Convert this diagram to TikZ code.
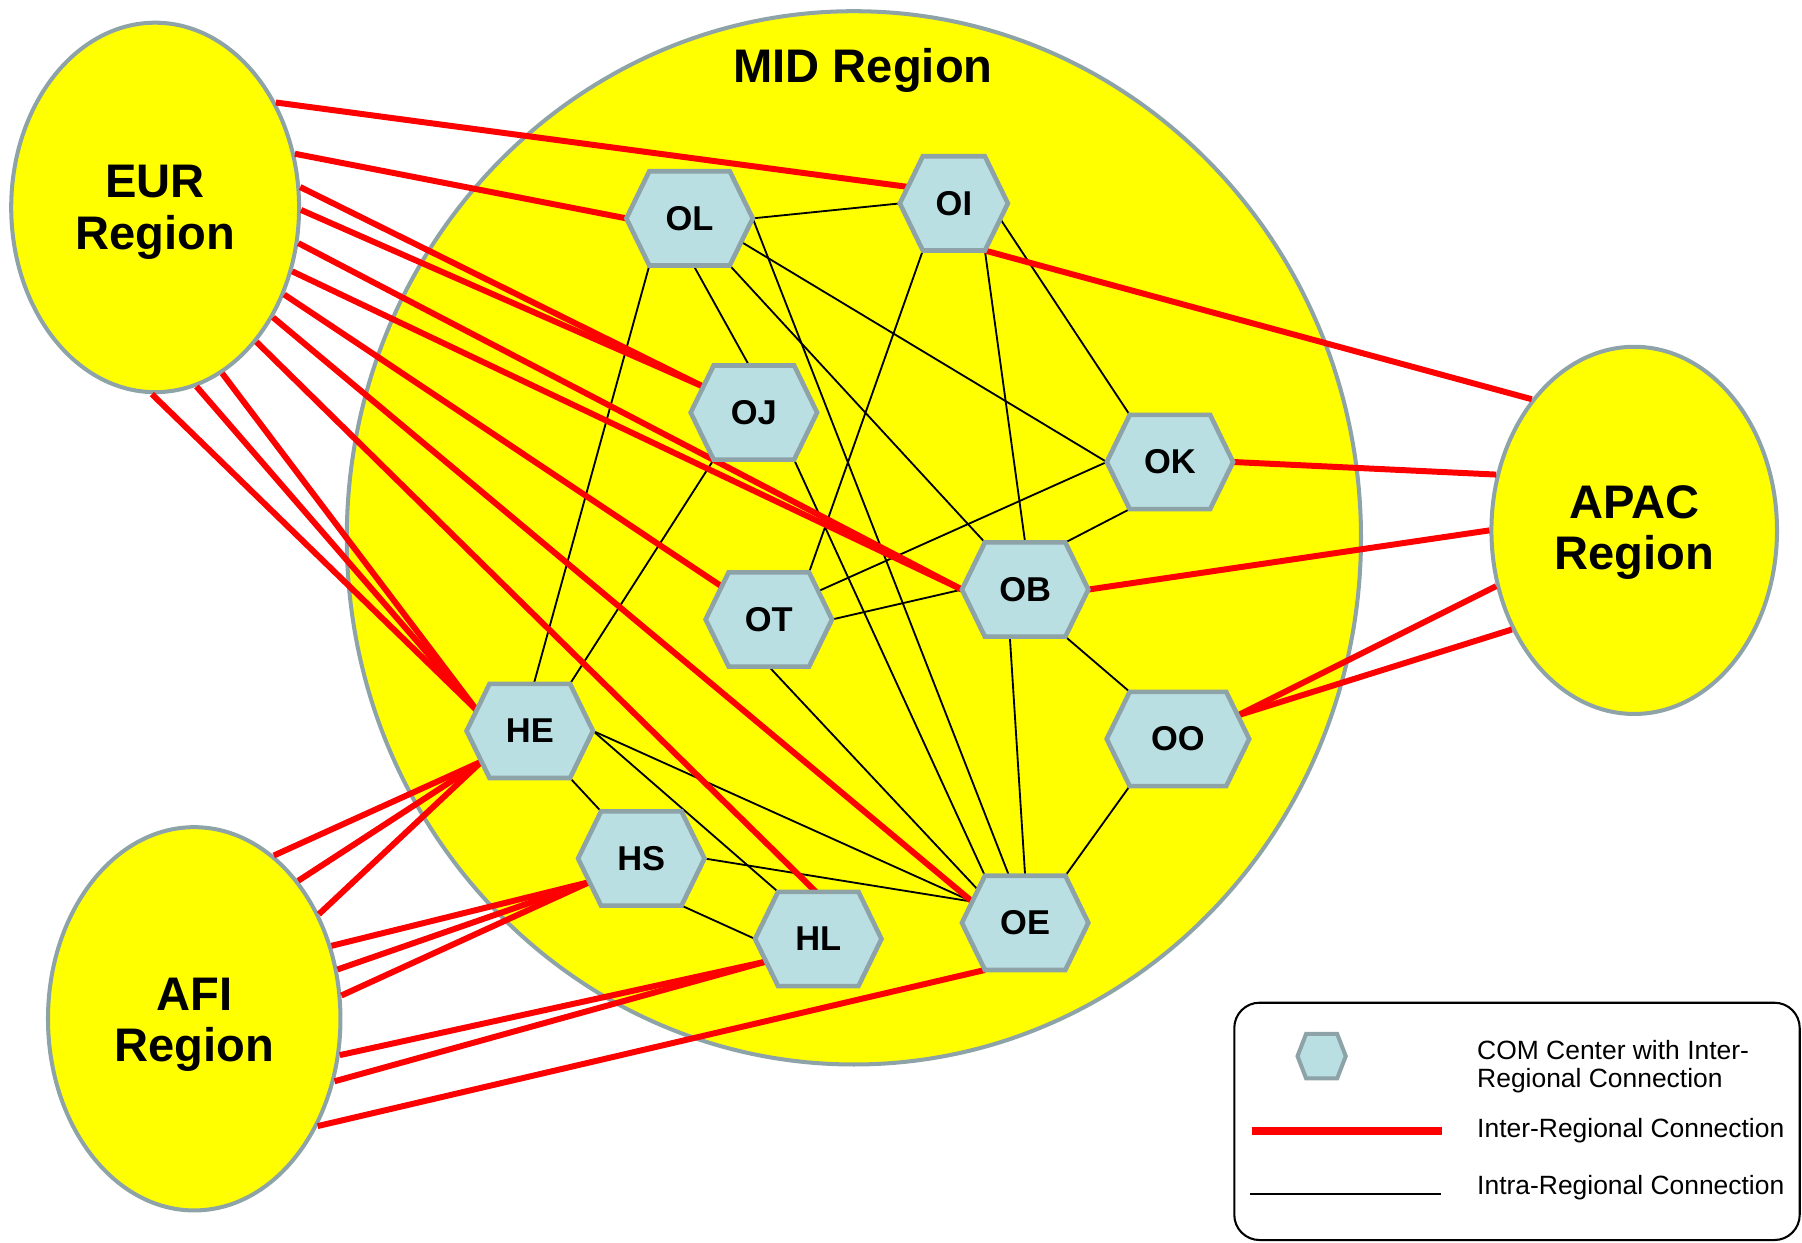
\documentclass[tikz,border=0pt]{standalone}
\usepackage{fontspec}
\setmainfont{Liberation Sans}
\usetikzlibrary{shapes.geometric,calc}
\definecolor{regyellow}{RGB}{255,255,0}
\definecolor{rimgray}{RGB}{141,163,167}
\definecolor{hexfill}{RGB}{185,223,227}
\definecolor{linkred}{RGB}{255,0,0}
\pgfdeclarelayer{regions}
\pgfdeclarelayer{links}
\pgfsetlayers{regions,links,main}
% #1 name, #2 x, #3 y, #4 half top edge, #5 label
\newcommand\mkhex[5]{%
  \coordinate (#1-c) at (#2,#3);
  \coordinate (#1-W) at (#2-#4-20,#3);
  \coordinate (#1-NW) at (#2-#4,#3-41);
  \coordinate (#1-NE) at (#2+#4,#3-41);
  \coordinate (#1-E) at (#2+#4+20,#3);
  \coordinate (#1-SE) at (#2+#4,#3+41);
  \coordinate (#1-SW) at (#2-#4,#3+41);
  \draw[hexshape] (#1-W) -- (#1-NW) -- (#1-NE) -- (#1-E) -- (#1-SE) -- (#1-SW) -- cycle;
  \node[hexlabel] (#1) at (#1-c) {#5};
}
\begin{document}
\begin{tikzpicture}[x=0.5pt,y=-0.5pt,
  regionshape/.style={draw=rimgray, fill=regyellow, line width=1.75pt, inner sep=0pt},
  regionlabel/.style={font=\fontsize{20.5}{22.5}\selectfont\bfseries, align=center, inner sep=0pt},
  hexshape/.style={draw=rimgray, fill=hexfill, line width=2pt},
  hexlabel/.style={font=\fontsize{15}{16}\selectfont\bfseries, inner sep=0pt},
  interlink/.style={draw=linkred, line width=2.6pt},
  intralink/.style={draw=black, line width=0.8pt},
  legendtext/.style={font=\fontsize{11.5}{13}\selectfont, anchor=base west, inner sep=0pt}]
\useasboundingbox (0,0) rectangle (1568,1081);

\begin{pgfonlayer}{regions}
  \node[regionshape, ellipse, minimum width=441.25pt, minimum height=458.25pt] (MID) at (743,468) {};
  \node[regionshape, ellipse, minimum width=125.25pt, minimum height=160.75pt] (EUR) at (135,180.5) {};
  \node[regionshape, ellipse, minimum width=124.25pt, minimum height=159.75pt] (APAC) at (1422,461.5) {};
  \node[regionshape, ellipse, minimum width=127.25pt, minimum height=166.75pt] (AFI) at (169,886.5) {};
  \node[regionlabel, font=\fontsize{20.5}{23}\selectfont\bfseries] (MIDlabel) at (751,61.6) {MID Region};
  \node[regionlabel] (EURlabel) at (135,184.9) {EUR\\Region};
  \node[regionlabel] (APAClabel) at (1422,463.4) {APAC\\Region};
  \node[regionlabel] (AFIlabel) at (169,891.7) {AFI\\Region};
\end{pgfonlayer}

\mkhex{OL}{600}{190}{35}{OL}
\mkhex{OI}{830}{177}{27}{OI}
\mkhex{OJ}{656}{359}{35}{OJ}
\mkhex{OK}{1018}{402}{35}{OK}
\mkhex{OB}{892}{513}{35}{OB}
\mkhex{OT}{669}{539}{35}{OT}
\mkhex{OO}{1025}{643}{42}{OO}
\mkhex{HE}{461}{636}{35}{HE}
\mkhex{HS}{558}{747}{35}{HS}
\mkhex{HL}{712}{817}{35}{HL}
\mkhex{OE}{892}{803}{35}{OE}

\begin{pgfonlayer}{links}
  % intra-regional
  \draw[intralink] (OL-E) -- (OI-W);
  \draw[intralink] (OL-SW) -- ($(HE-NW)!0.55!(HE-NE)$);
  \draw[intralink] (OJ-SW) -- (HE-NE);
  \draw[intralink] ($(OL-SW)!0.55!(OL-SE)$) -- ($(OJ-NW)!0.44!(OJ-NE)$);
  \draw[intralink] (OL-SE) -- (OB-NW);
  \draw[intralink] ($(OL-E)!0.5!(OL-SE)$) -- (OK-W);
  \draw[intralink] (OL-E) -- ($(OE-NW)!0.3!(OE-NE)$);
  \draw[intralink] (OJ-SE) -- (OE-NW);
  \draw[intralink] (OI-SW) -- (OT-NE);
  \draw[intralink] (OI-SE) -- ($(OB-NW)!0.5!(OB-NE)$);
  \draw[intralink] ($(OI-E)!0.33!(OI-SE)$) -- (OK-NW);
  \draw[intralink] (OK-W) -- ($(OT-NE)!0.4!(OT-E)$);
  \draw[intralink] (OK-SW) -- (OB-NE);
  \draw[intralink] (OT-E) -- (OB-W);
  \draw[intralink] ($(OB-SW)!0.31!(OB-SE)$) -- ($(OE-NW)!0.5!(OE-NE)$);
  \draw[intralink] (OB-SE) -- (OO-NW);
  \draw[intralink] (OO-SW) -- (OE-NE);
  \draw[intralink] ($(OT-SW)!0.5!(OT-SE)$) -- ($(OE-W)!0.7!(OE-NW)$);
  \draw[intralink] (HE-SE) -- (HS-NW);
  \draw[intralink] (HE-E) -- (HL-NW);
  \draw[intralink] (HE-E) -- ($(OE-W)!0.45!(OE-NW)$);
  \draw[intralink] (HS-SE) -- (HL-W);
  \draw[intralink] (HS-E) -- ($(OE-W)!0.45!(OE-NW)$);
  % inter-regional: EUR
  \draw[interlink] (EUR.41) -- ($(OI-W)!0.35!(OI-NW)$);
  \draw[interlink] (EUR.21) -- (OL-W);
  \draw[interlink] (EUR.8) -- ($(OJ-W)!0.55!(OJ-NW)$);
  \draw[interlink] (EUR.-1) -- ($(OJ-W)!0.55!(OJ-NW)$);
  \draw[interlink] (EUR.-14) -- (OB-W);
  \draw[interlink] (EUR.-25) -- (OB-W);
  \draw[interlink] (EUR.-34) -- ($(OT-W)!0.7!(OT-NW)$);
  \draw[interlink] (EUR.-43) -- ($(OE-W)!0.45!(OE-NW)$);
  \draw[interlink] (EUR.-53) -- ($(HL-NW)!0.47!(HL-NE)$);
  \draw[interlink] (EUR.-68) -- ($(HE-W)!0.44!(HE-NW)$);
  \draw[interlink] (EUR.-77) -- ($(HE-W)!0.44!(HE-NW)$);
  \draw[interlink] (EUR.-91) -- ($(HE-W)!0.44!(HE-NW)$);
  % inter-regional: APAC
  \draw[interlink] (OI-SE) -- (APAC.128);
  \draw[interlink] (OK-E) -- (APAC.158);
  \draw[interlink] (OB-E) -- (APAC.180);
  \draw[interlink] ($(OO-E)!0.5!(OO-NE)$) -- (APAC.-158);
  \draw[interlink] ($(OO-E)!0.5!(OO-NE)$) -- (APAC.-141);
  % inter-regional: AFI
  \draw[interlink] (AFI.64) -- ($(HE-W)!0.65!(HE-SW)$);
  \draw[interlink] (AFI.53) -- ($(HE-W)!0.65!(HE-SW)$);
  \draw[interlink] (AFI.40) -- ($(HE-W)!0.65!(HE-SW)$);
  \draw[interlink] (AFI.28) -- ($(HS-W)!0.5!(HS-SW)$);
  \draw[interlink] (AFI.19) -- ($(HS-W)!0.5!(HS-SW)$);
  \draw[interlink] (AFI.9) -- ($(HS-W)!0.5!(HS-SW)$);
  \draw[interlink] (AFI.-14) -- ($(HL-W)!0.48!(HL-SW)$);
  \draw[interlink] (AFI.-24) -- ($(HL-W)!0.48!(HL-SW)$);
  \draw[interlink] (AFI.-41) -- (OE-SW);
\end{pgfonlayer}

% legend
\node[draw=black, line width=0.9pt, rounded corners=11pt, minimum width=246pt, minimum height=103.25pt, inner sep=0pt] (legend) at (1320,975.75) {};
\draw[hexshape, line width=1.75pt] (1150-21,919) -- (1150-13.5,919-19.4) -- (1150+13.5,919-19.4) -- (1150+21,919) -- (1150+13.5,919+19.4) -- (1150-13.5,919+19.4) -- cycle;
\coordinate (legRedA) at (1089,984);
\coordinate (legRedB) at (1255,984);
\coordinate (legBlkA) at (1088,1039);
\coordinate (legBlkB) at (1254,1039);
\draw[linkred, line width=3.65pt] (legRedA) -- (legRedB);
\draw[black, line width=0.8pt] (legBlkA) -- (legBlkB);
\node[legendtext] (leg1) at (1285,921.5) {COM Center with Inter-};
\node[legendtext] (leg2) at (1285,946.5) {Regional Connection};
\node[legendtext] (leg3) at (1285,989.5) {Inter-Regional Connection};
\node[legendtext] (leg4) at (1285,1039) {Intra-Regional Connection};
\end{tikzpicture}
\end{document}
